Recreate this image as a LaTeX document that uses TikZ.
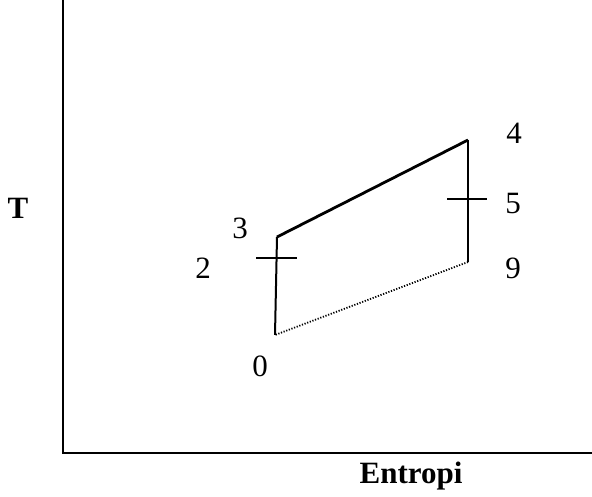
\documentclass[tikz,border=0pt]{standalone}
\usepackage{fontspec}
\setmainfont{Liberation Serif}
\usetikzlibrary{positioning}

\begin{document}
\begin{tikzpicture}[
  x=1pt, y=1pt,
  axis/.style={line width=2.8pt, line cap=rect},
  process/.style={line width=2pt},
  heat/.style={line width=2.8pt},
  exhaust/.style={line width=1.8pt, dash pattern=on 1.2pt off 1.6pt},
  tick/.style={line width=1.8pt},
  statelabel/.style={font=\fontsize{31}{35}\selectfont, inner sep=0pt},
  axislabel/.style={font=\fontsize{31}{35}\selectfont\bfseries, inner sep=0pt, anchor=base}
  ]
  \useasboundingbox (0,0) rectangle (592,496);
  % axes
  \coordinate (origin) at (63,43);
  \coordinate (ytop) at (63,496);
  \coordinate (xend) at (592,43);
  \draw[axis] (ytop) -- (origin) -- (xend);
  % state points
  \coordinate (s0) at (275,161);
  \coordinate (s3) at (277,259);
  \coordinate (s4) at (468,356);
  \coordinate (s9) at (468,234);
  \coordinate (s2) at (276,238);
  \coordinate (s5) at (468,297);
  % cycle
  \draw[process] (s0) -- (s3);
  \draw[heat] (s3) -- (s4);
  \draw[process] (s4) -- (s9);
  \draw[exhaust] (s9) -- (s0);
  % ticks
  \draw[tick] ([xshift=-20pt]s2) -- ([xshift=21pt]s2);
  \draw[tick] ([xshift=-21pt]s5) -- ([xshift=19pt]s5);
  % labels
  \node[statelabel] (l0) at (260,130) {0};
  \node[statelabel] (l2) at (203,228) {2};
  \node[statelabel] (l3) at (240,268) {3};
  \node[statelabel] (l4) at (514,363) {4};
  \node[statelabel] (l5) at (513,292) {5};
  \node[statelabel] (l9) at (513,228) {9};
  \node[axislabel] (lT) at (18,277) {T};
  \node[axislabel] (lS) at (411,13) {Entropi};
\end{tikzpicture}
\end{document}
